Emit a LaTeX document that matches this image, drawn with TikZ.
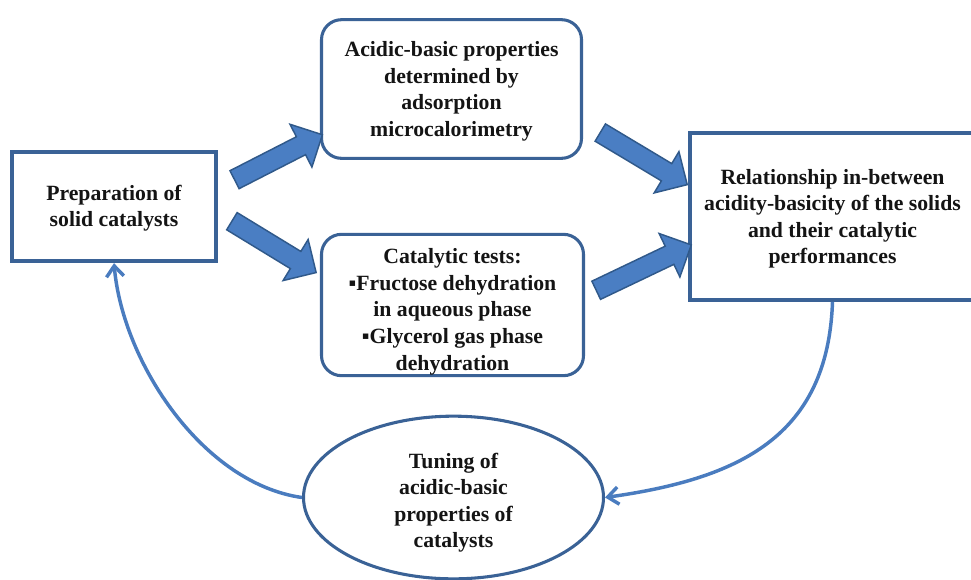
\documentclass[tikz,border=0pt]{standalone}
\usepackage{fontspec}
\setmainfont{Liberation Serif}
\usetikzlibrary{shapes.geometric,shapes.arrows,arrows.meta}

\begin{document}
\begin{tikzpicture}[x=0.75pt,y=-0.75pt,
  boxnode/.style={draw=boxline,line width=3pt,fill=white,align=center,inner sep=0pt,
    font=\fontsize{16.3}{19.9}\selectfont\bfseries,text=textdark},
  roundnode/.style={boxnode,rounded corners=15pt,line width=2.3pt},
  bigarrow/.style={single arrow,draw=arrowline,fill=arrowfill,line width=1.1pt,
    inner xsep=0pt,inner ysep=7pt,single arrow head extend=10.5pt},
  loopline/.style={draw=loopblue,line width=2.6pt,-{Straight Barb[length=8pt,width=13pt]}}]
\definecolor{boxline}{HTML}{3A6296}
\definecolor{arrowline}{HTML}{30598A}
\definecolor{arrowfill}{HTML}{4A7EC3}
\definecolor{loopblue}{HTML}{4A7CBF}
\definecolor{textdark}{HTML}{141414}
\useasboundingbox (0,0) rectangle (971,579);
% the five stages
\node[boxnode,minimum width=153pt,minimum height=82pt] (prep) at (114,206.5)
  {\rule{0pt}{14pt}Preparation of\\solid catalysts};
\node[roundnode,minimum width=195pt,minimum height=104pt] (acid) at (451.5,89)
  {\rule{0pt}{15pt}Acidic-basic properties\\determined by\\adsorption\\microcalorimetry};
\node[roundnode,minimum width=196.5pt,minimum height=106pt] (tests) at (452.5,305)
  {\rule{0pt}{21.5pt}Catalytic tests:\\▪Fructose dehydration\\in aqueous phase\\▪Glycerol gas phase\\dehydration};
\node[boxnode,minimum width=214pt,minimum height=125pt] (rel) at (832.5,216.5)
  {\rule{0pt}{15pt}Relationship in-between\\acidity-basicity of the solids\\and their catalytic\\performances};
\node[boxnode,ellipse,line width=2.3pt,minimum width=225pt,minimum height=122pt] (tune) at (453.5,497.5)
  {\rule{0pt}{19pt}Tuning of\\acidic-basic\\properties of\\catalysts};
% block arrows
\path ([shift={(12,-24.5)}]prep.east) -- ([shift={(-2,48)}]acid.west)
  node[bigarrow,midway,sloped,minimum height=74pt] (ar1) {};
\path ([shift={(9.5,12)}]prep.east) -- ([shift={(-8,-35)}]tests.west)
  node[bigarrow,midway,sloped,minimum height=74pt] (ar2) {};
\path ([shift={(13,41)}]acid.east) -- ([shift={(-5,-34.5)}]rel.west)
  node[bigarrow,midway,sloped,minimum height=76pt] (ar3) {};
\path ([shift={(6.5,-12.5)}]tests.east) -- ([shift={(-1,30.5)}]rel.west)
  node[bigarrow,midway,sloped,minimum height=79pt] (ar4) {};
% feedback loop
\draw[loopline] (rel.south) to[out=-92,in=8,looseness=1.15] (tune.east);
\draw[loopline] (tune.west) to[out=172,in=-85,looseness=0.85] (prep.south);
\end{tikzpicture}
\end{document}
